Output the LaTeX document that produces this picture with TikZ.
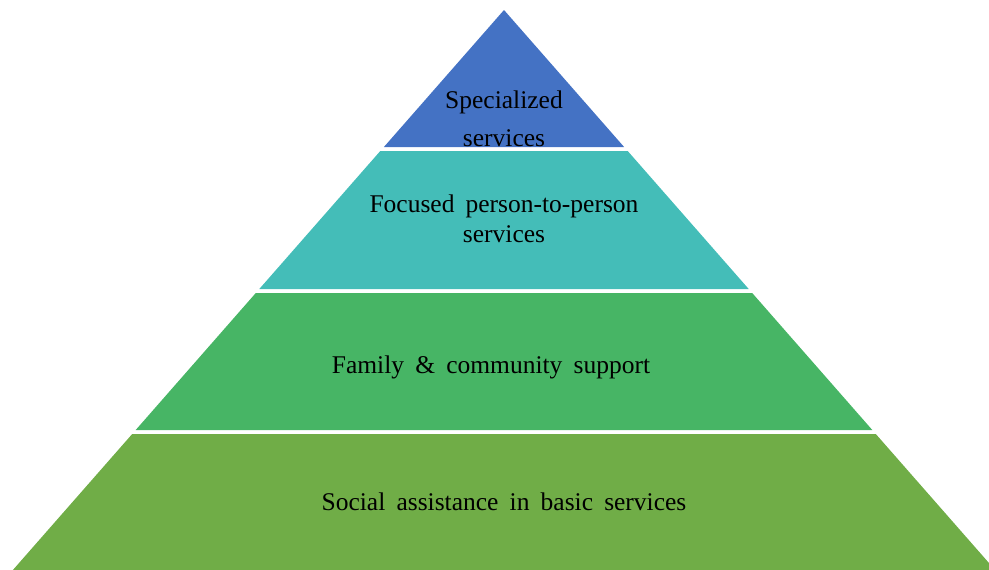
\documentclass[tikz,border=0pt]{standalone}
\usepackage{fontspec}
\setmainfont{Liberation Serif}[WordSpace=1.75]
\definecolor{cblue}{HTML}{4472C4}
\definecolor{cteal}{HTML}{44BDB8}
\definecolor{cgreen}{HTML}{47B565}
\definecolor{colive}{HTML}{70AD47}
\tikzset{
  lbl/.style={anchor=base, inner sep=0pt, font=\fontsize{25.5}{30}\selectfont, text=black}
}
\begin{document}
\begin{tikzpicture}[x=1pt,y=-1pt]
\useasboundingbox (0,0) rectangle (989,570);
\clip (0,0) rectangle (989,570);
% bands
\fill[cblue] (504,10) -- (624.1,147) -- (383.9,147) -- cycle;
\fill[cteal] (380.3,151) -- (627.7,151) -- (748.7,289) -- (259.3,289) -- cycle;
\fill[cgreen] (255.8,293) -- (752.2,293) -- (872.3,430) -- (135.7,430) -- cycle;
\fill[colive] (132.2,434) -- (875.8,434) -- (995.1,570) -- (12.9,570) -- cycle;
% labels
\node[lbl] (t1a) at (504,108) {Specialized};
\node[lbl] (t1b) at (504,146) {services};
\node[lbl] (t2a) at (504,212) {Focused person-to-person};
\node[lbl] (t2b) at (504,242) {services};
\node[lbl] (t3) at (491,373) {Family \& community support};
\node[lbl] (t4) at (504,510) {Social assistance in basic services};
\end{tikzpicture}
\end{document}
